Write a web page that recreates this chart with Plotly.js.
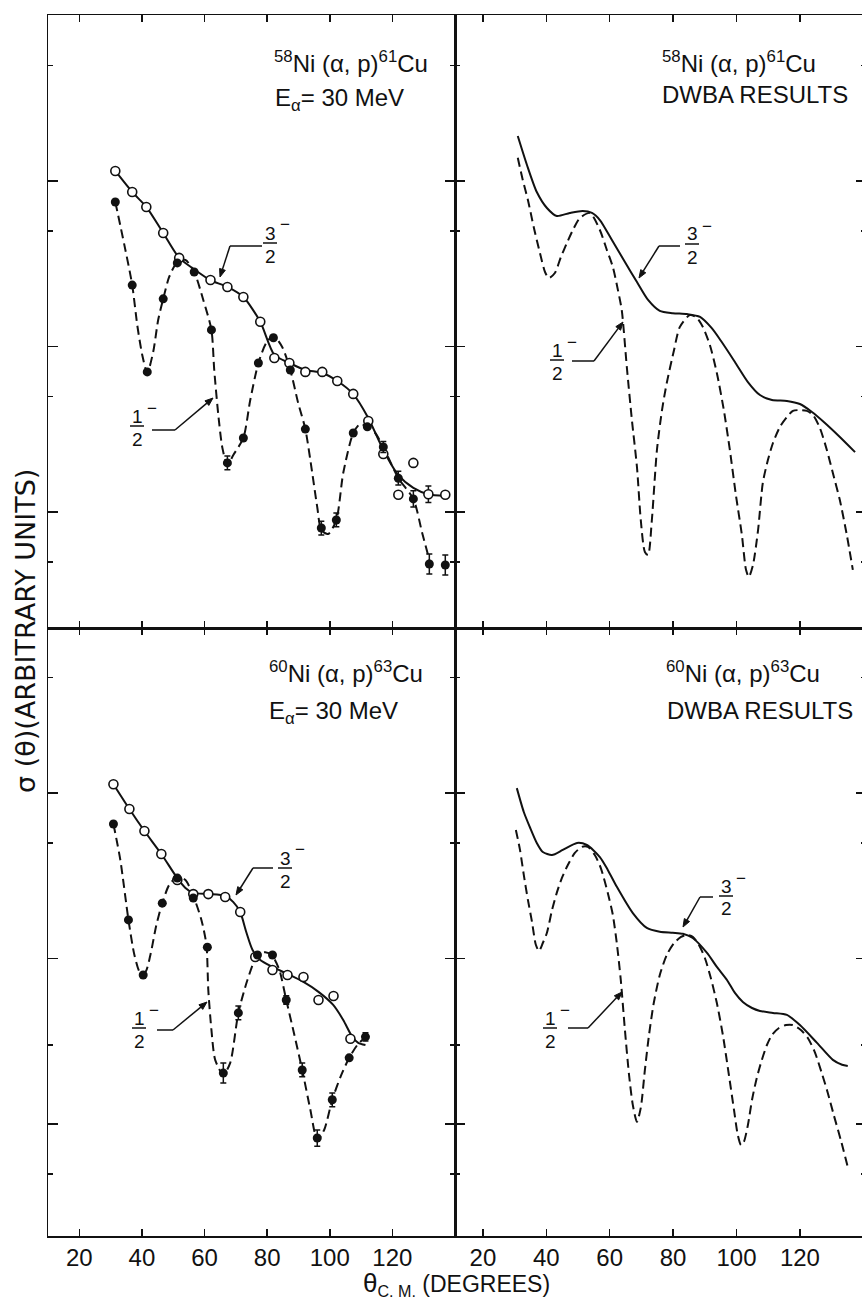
<!DOCTYPE html>
<html><head><meta charset="utf-8">
<script src="https://cdn.plot.ly/plotly-3.0.1.min.js"></script>
<style>html,body{margin:0;padding:0;overflow:hidden;background:#fff}#chart{width:866px;height:1299px}</style>
</head><body><div id="chart"></div><script>
// ---------- data (theta c.m. in degrees, sigma in arbitrary units) ----------
const xTickVals = [20, 40, 60, 80, 100, 120];
const xTickText = ["20", "40", "60", "80", "100", "120"];
const majorTicks = [1, 0.1, 0.01];
const minorTicksTop = [5, 0.5, 0.05, 0.005];
const minorTicksBottom = [5, 0.5, 0.03, 0.005];

// 58Ni(a,p)61Cu experiment
const tlOpenDeg = [31.5, 36.9, 41.4, 46.8, 51.9, 61.9, 67.3, 72.4, 77.8, 82.3, 87.1, 92.2, 97.6, 102.4, 107.5, 112.3, 117.1, 121.9, 126.7, 131.5, 136.9];
const tlOpenSig = [1.15, 0.858, 0.697, 0.485, 0.343, 0.252, 0.229, 0.199, 0.141, 0.0852, 0.0795, 0.0702, 0.0702, 0.0619, 0.0517, 0.0355, 0.0224, 0.0127, 0.0198, 0.0128, 0.0127];
const tlOpenErr = [0, 0, 0, 0, 0, 0, 0, 0, 0, 0, 0, 0, 0, 0, 0, 0, 0, 0, 0, 0.12, 0];
const tlFilledDeg = [31.5, 36.9, 41.7, 46.8, 51.3, 56.7, 62.2, 67.3, 72.4, 77.2, 82.0, 87.4, 92.2, 97.3, 102.1, 107.5, 112.0, 117.1, 121.9, 126.7, 131.8, 136.9];
const tlFilledSig = [0.747, 0.235, 0.0702, 0.194, 0.320, 0.282, 0.126, 0.0198, 0.028, 0.0795, 0.113, 0.0721, 0.0317, 0.0080, 0.00895, 0.030, 0.0327, 0.0247, 0.0160, 0.0120, 0.00485, 0.00478];
const tlFilledErr = [0, 0, 0, 0, 0, 0, 0, 0.1, 0, 0, 0, 0, 0, 0.1, 0.1, 0, 0, 0.08, 0.1, 0.12, 0.15, 0.15];
const tlSolidDeg = [31.5, 36.9, 41.4, 46.8, 51.9, 57.0, 61.8, 67.3, 72.4, 77.8, 82.3, 87.1, 92.2, 97.6, 102.4, 107.5, 112.3, 117.1, 121.9, 126.7, 131.5, 136.9];
const tlSolidSig = [1.15, 0.858, 0.697, 0.485, 0.343, 0.290, 0.252, 0.229, 0.199, 0.141, 0.0889, 0.0795, 0.0721, 0.0692, 0.0619, 0.0516, 0.0370, 0.0237, 0.0167, 0.0140, 0.0128, 0.0125];
const tlDashDeg = [31.5, 34.4, 36.9, 38.5, 40.1, 41.7, 43.6, 45.2, 46.8, 48.7, 51.3, 53.9, 56.7, 59.6, 62.2, 63.1, 64.4, 65.7, 67.3, 69.2, 72.4, 74.6, 77.2, 79.7, 82.0, 84.8, 87.4, 89.9, 92.2, 94.4, 96.0, 97.3, 99.5, 102.1, 104.3, 107.5, 109.7, 112.0, 114.5, 117.1, 121.9, 126.7, 129.5, 131.8];
const tlDashSig = [0.747, 0.410, 0.235, 0.135, 0.0889, 0.0692, 0.0927, 0.145, 0.194, 0.263, 0.324, 0.333, 0.282, 0.191, 0.126, 0.0721, 0.0386, 0.0244, 0.0192, 0.0221, 0.0280, 0.0475, 0.0795, 0.105, 0.116, 0.0993, 0.0721, 0.0456, 0.0317, 0.0172, 0.0107, 0.00778, 0.00736, 0.00895, 0.0172, 0.0300, 0.0340, 0.0327, 0.0300, 0.0247, 0.0160, 0.0120, 0.00750, 0.00515];

// 58Ni(a,p)61Cu DWBA
const trSolidDeg = [31.0, 33.9, 37.0, 40.2, 43.3, 47.4, 51.5, 54.4, 56.9, 60.7, 64.8, 68.6, 72.1, 75.8, 79.9, 84.4, 88.5, 92.2, 95.4, 99.5, 103.6, 107.4, 111.2, 115.9, 120.0, 123.8, 127.9, 132.6, 137.4];
const trSolidSig = [1.87, 1.25, 0.858, 0.687, 0.615, 0.641, 0.659, 0.641, 0.581, 0.440, 0.324, 0.245, 0.191, 0.164, 0.159, 0.157, 0.151, 0.129, 0.106, 0.0806, 0.0610, 0.0509, 0.0475, 0.0469, 0.0449, 0.0402, 0.0345, 0.0284, 0.0230];
const trDashDeg = [31.0, 32.6, 34.2, 36.1, 38.0, 39.6, 40.8, 42.7, 44.6, 46.5, 48.7, 50.6, 53.8, 56.9, 59.1, 61.0, 62.6, 63.8, 65.4, 67.0, 68.6, 69.8, 71.1, 72.1, 73.3, 74.9, 76.5, 78.0, 80.3, 82.1, 85.3, 87.5, 89.4, 91.6, 93.8, 96.0, 97.9, 99.8, 101.7, 103.0, 103.9, 105.2, 106.8, 108.3, 109.9, 111.5, 113.7, 115.9, 117.8, 120.0, 122.2, 124.1, 126.3, 128.5, 130.4, 132.6, 134.8, 136.7];
const trDashSig = [1.38, 1.01, 0.768, 0.520, 0.367, 0.282, 0.259, 0.278, 0.347, 0.422, 0.520, 0.598, 0.641, 0.506, 0.383, 0.302, 0.219, 0.166, 0.0752, 0.0360, 0.0187, 0.00895, 0.00573, 0.00550, 0.00895, 0.0237, 0.0413, 0.0602, 0.0953, 0.131, 0.155, 0.149, 0.131, 0.102, 0.0692, 0.0413, 0.0237, 0.0127, 0.00726, 0.00447, 0.00405, 0.00478, 0.00778, 0.0150, 0.0206, 0.0261, 0.0327, 0.0375, 0.0408, 0.0413, 0.0408, 0.0386, 0.0322, 0.0237, 0.0172, 0.0118, 0.00726, 0.00447];

// 60Ni(a,p)63Cu experiment
const blOpenDeg = [30.9, 36.0, 40.8, 46.2, 51.3, 56.4, 61.2, 66.6, 71.4, 76.2, 81.7, 86.5, 91.6, 96.4, 101.2, 106.6];
const blOpenSig = [1.13, 0.800, 0.589, 0.428, 0.298, 0.245, 0.245, 0.235, 0.191, 0.102, 0.0852, 0.0795, 0.0773, 0.0561, 0.0593, 0.0327];
const blFilledDeg = [30.9, 35.7, 40.4, 46.5, 51.3, 56.4, 60.9, 66.0, 70.8, 76.9, 81.7, 86.1, 91.2, 96.0, 100.8, 106.2, 111.4];
const blFilledSig = [0.650, 0.171, 0.0795, 0.216, 0.306, 0.232, 0.117, 0.0203, 0.0469, 0.105, 0.105, 0.0561, 0.0212, 0.00822, 0.0140, 0.0251, 0.0336];
const blFilledErr = [0, 0, 0, 0, 0, 0, 0, 0.15, 0.1, 0, 0, 0.06, 0.1, 0.12, 0.1, 0, 0.06];
const blSolidDeg = [30.9, 36.0, 40.8, 46.2, 51.3, 53.9, 56.4, 61.2, 66.6, 69.2, 71.4, 73.3, 75.3, 77.8, 81.7, 86.5, 91.6, 96.4, 101.1, 104.3, 107.2, 109.1, 111.4];
const blSolidSig = [1.13, 0.800, 0.589, 0.428, 0.306, 0.267, 0.249, 0.245, 0.239, 0.219, 0.191, 0.145, 0.113, 0.0980, 0.0889, 0.0806, 0.0721, 0.0628, 0.0524, 0.0425, 0.0336, 0.0309, 0.0300];
const blDashDeg = [30.9, 33.1, 35.7, 37.6, 39.5, 41.1, 42.7, 44.6, 46.5, 48.7, 51.3, 53.9, 56.4, 59.0, 60.6, 61.2, 62.2, 63.4, 66.0, 68.2, 70.8, 73.7, 76.9, 79.4, 81.6, 83.9, 86.1, 88.7, 91.2, 93.8, 96.0, 98.2, 100.8, 103.4, 106.2, 108.8, 111.4];
const blDashSig = [0.650, 0.394, 0.171, 0.105, 0.0817, 0.0828, 0.105, 0.159, 0.216, 0.278, 0.311, 0.298, 0.239, 0.171, 0.121, 0.0645, 0.0370, 0.0244, 0.0198, 0.0234, 0.0469, 0.0741, 0.105, 0.109, 0.104, 0.0852, 0.0561, 0.0345, 0.0212, 0.0122, 0.00800, 0.00920, 0.0140, 0.0192, 0.0251, 0.0300, 0.0336];

// 60Ni(a,p)63Cu DWBA
const brSolidDeg = [30.7, 32.9, 34.8, 37.0, 38.9, 41.8, 45.2, 49.7, 52.8, 56.9, 59.4, 62.3, 67.3, 71.7, 75.8, 79.9, 83.1, 86.2, 90.7, 93.8, 97.0, 99.5, 102.0, 104.9, 107.4, 111.5, 115.9, 120.0, 125.4, 130.4, 133.3, 135.1];
const brSolidSig = [1.07, 0.768, 0.623, 0.499, 0.440, 0.422, 0.453, 0.499, 0.485, 0.410, 0.343, 0.270, 0.188, 0.153, 0.145, 0.143, 0.141, 0.133, 0.108, 0.0889, 0.0741, 0.0619, 0.0546, 0.0502, 0.0482, 0.0469, 0.0456, 0.0396, 0.0309, 0.0244, 0.0228, 0.0224];
const brDashDeg = [30.4, 31.7, 32.9, 34.2, 35.5, 36.7, 37.7, 38.9, 40.2, 41.8, 43.3, 44.9, 46.8, 49.0, 51.2, 53.1, 55.3, 57.2, 59.4, 61.0, 62.3, 63.5, 64.8, 66.1, 67.3, 68.6, 69.8, 71.1, 72.4, 73.9, 75.8, 78.0, 80.3, 82.5, 84.4, 86.2, 88.1, 90.0, 91.9, 93.8, 95.7, 97.6, 99.2, 100.4, 101.4, 102.3, 103.6, 104.9, 106.4, 108.0, 109.6, 111.2, 113.4, 115.6, 117.8, 120.3, 122.5, 124.7, 126.9, 128.8, 130.7, 132.9, 135.1];
const brDashSig = [0.598, 0.453, 0.320, 0.226, 0.166, 0.121, 0.111, 0.124, 0.143, 0.196, 0.249, 0.306, 0.367, 0.434, 0.472, 0.472, 0.422, 0.352, 0.249, 0.183, 0.121, 0.0741, 0.0370, 0.0198, 0.0130, 0.0103, 0.0125, 0.0212, 0.0345, 0.0538, 0.0795, 0.105, 0.124, 0.135, 0.139, 0.135, 0.121, 0.101, 0.0762, 0.0538, 0.0345, 0.0198, 0.0122, 0.00859, 0.00746, 0.00778, 0.00986, 0.0140, 0.0190, 0.0244, 0.0300, 0.0345, 0.0380, 0.0396, 0.0396, 0.0370, 0.0331, 0.0272, 0.0203, 0.0154, 0.0113, 0.00800, 0.00550];

// ---------- figure ----------
const INK = '#111';
const FONT = 'Liberation Sans, Arial, sans-serif';
const W = 866, H = 1299, ML = 48, MT = 15, MB = 63;
const PW = W - ML, PH = H - MT - MB;
const px = x => (x - ML) / PW;
const py = y => (H - MB - y) / PH;
const splitX = px(455), splitY = py(628);

function errBars(sig, frac) {
  return {type: 'data', symmetric: false, visible: true,
    array: sig.map((v, i) => v * frac[i]),
    arrayminus: sig.map((v, i) => v * frac[i] / (1 + frac[i])),
    color: INK, thickness: 1.5, width: 3};
}
function curve(xs, ys, n, dashed) {
  return {x: xs, y: ys, xaxis: 'x' + n, yaxis: 'y' + n, mode: 'lines', hoverinfo: 'skip',
    line: {color: INK, width: 2, dash: dashed ? '9px,5px' : 'solid', shape: 'spline', smoothing: 0.7}};
}
function pts(xs, ys, n, open, err) {
  const t = {x: xs, y: ys, xaxis: 'x' + n, yaxis: 'y' + n, mode: 'markers', hoverinfo: 'skip',
    marker: open ? {symbol: 'circle', size: 9, color: '#fff', line: {color: INK, width: 1.6}}
                 : {symbol: 'circle', size: 9, color: INK, line: {color: INK, width: 0}}};
  if (err) t.error_y = errBars(ys, err);
  return t;
}

const data = [
  curve(tlSolidDeg, tlSolidSig, '', false),
  curve(tlDashDeg, tlDashSig, '', true),
  pts(tlOpenDeg, tlOpenSig, '', true, tlOpenErr),
  pts(tlFilledDeg, tlFilledSig, '', false, tlFilledErr),
  curve(trSolidDeg, trSolidSig, '2', false),
  curve(trDashDeg, trDashSig, '2', true),
  curve(blSolidDeg, blSolidSig, '3', false),
  curve(blDashDeg, blDashSig, '3', true),
  pts(blOpenDeg, blOpenSig, '3', true, null),
  pts(blFilledDeg, blFilledSig, '3', false, blFilledErr),
  curve(brSolidDeg, brSolidSig, '4', false),
  curve(brDashDeg, brDashSig, '4', true)
];

const axBase = {showline: true, linecolor: INK, linewidth: 1.5, mirror: 'ticks', ticks: 'inside',
  tickcolor: INK, tickwidth: 1.5, showgrid: false, zeroline: false, fixedrange: true};
function xAx(domain, range, anchor, labels) {
  return Object.assign({}, axBase, {domain, range, anchor, tickmode: 'array', tickvals: xTickVals,
    ticktext: xTickText, ticklen: 7, showticklabels: labels,
    tickfont: {family: FONT, size: 24, color: INK}});
}
function yAx(domain, range, anchor, minor) {
  return Object.assign({}, axBase, {domain, range, anchor, type: 'log', tickmode: 'array',
    tickvals: majorTicks, ticklen: 10, showticklabels: false,
    minor: {tickmode: 'array', tickvals: minor, ticks: 'inside', ticklen: 5, tickcolor: INK, tickwidth: 1.5, showgrid: false}});
}

const annotations = [];
const shapes = [];
function txt(x, y, text, size, extra) {
  annotations.push(Object.assign({xref: 'paper', yref: 'paper', x: px(x), y: py(y), text, showarrow: false,
    font: {family: FONT, size, color: INK}, xanchor: 'center', yanchor: 'middle'}, extra || {}));
}
function seg(x0, y0, x1, y1) {
  shapes.push({type: 'line', xref: 'paper', yref: 'paper', x0: px(x0), y0: py(y0), x1: px(x1), y1: py(y1),
    line: {color: INK, width: 1.5}});
}
// leader segment ending in a small filled arrowhead at (hx, hy)
function arrow(tx, ty, hx, hy) {
  const dx = hx - tx, dy = hy - ty, len = Math.hypot(dx, dy);
  const ux = dx / len, uy = dy / len, hl = 8, hw = 3;
  const bx = hx - ux * hl, by = hy - uy * hl;
  seg(tx, ty, bx, by);
  const p1 = [bx - uy * hw, by + ux * hw], p2 = [bx + uy * hw, by - ux * hw];
  shapes.push({type: 'path', xref: 'paper', yref: 'paper',
    path: `M ${px(hx)} ${py(hy)} L ${px(p1[0])} ${py(p1[1])} L ${px(p2[0])} ${py(p2[1])} Z`,
    fillcolor: INK, line: {color: INK, width: 1}});
}
// fraction label: numerator, bar, denominator, superscript minus, leader line + arrow
function spinLabel(num, cx, barY, leader) {
  txt(cx, barY - 10, num, 19);
  seg(cx - 7, barY, cx + 7, barY);
  txt(cx, barY + 13, '2', 19);
  txt(cx + 15, barY - 18, '\u2212', 17);
  seg(leader[0], leader[1], leader[2], leader[3]);
  arrow(leader[2], leader[3], leader[4], leader[5]);
}
spinLabel('3', 270, 243, [262, 246, 230, 246, 220, 277]);
spinLabel('1', 137, 426, [152, 430, 175, 430, 213, 398]);
spinLabel('3', 692, 244, [680, 246, 659, 246, 639, 278]);
spinLabel('1', 557, 360, [572, 361, 594, 361, 623, 322]);
spinLabel('3', 285, 868, [273, 868, 253, 868, 236, 895]);
spinLabel('1', 139, 1028, [157, 1030, 173, 1030, 207, 1002]);
spinLabel('3', 726, 896, [713, 897, 700, 897, 683, 927]);
spinLabel('1', 550, 1028, [568, 1028, 588, 1028, 622, 992]);

// panel titles
const L = {xanchor: 'left'};
txt(272, 62, '<sup>58</sup>Ni (α, p)<sup>61</sup>Cu', 24, L);
txt(273, 99, 'E<sub>α</sub>= 30 MeV', 24, L);
txt(660, 62, '<sup>58</sup>Ni (α, p)<sup>61</sup>Cu', 24, L);
txt(660, 95, 'DWBA RESULTS', 24, L);
txt(267, 672, '<sup>60</sup>Ni (α, p)<sup>63</sup>Cu', 24, L);
txt(267, 712, 'E<sub>α</sub>= 30 MeV', 24, L);
txt(664, 672, '<sup>60</sup>Ni (α, p)<sup>63</sup>Cu', 24, L);
txt(665, 710, 'DWBA RESULTS', 24, L);

// axis titles
txt(456, 1284, '<span style="font-size:26px">θ</span><sub>C. M.</sub> (DEGREES)', 23);
annotations.push({xref: 'paper', yref: 'paper', x: px(25), y: py(631), text: 'σ (θ)(ARBITRARY UNITS)',
  showarrow: false, textangle: -90, font: {family: 'DejaVu Sans, sans-serif', size: 27, color: INK},
  xanchor: 'center', yanchor: 'middle'});

const layout = {
  width: W, height: H, margin: {l: ML, r: 0, t: MT, b: MB, pad: 0},
  paper_bgcolor: '#fff', plot_bgcolor: '#fff', showlegend: false,
  xaxis: xAx([0, splitX], [10, 140], 'y', false),
  yaxis: yAx([splitY, 1], [-2.701, 1.003], 'x', minorTicksTop),
  xaxis2: xAx([splitX, 1], [11.2, 140.85], 'y2', false),
  yaxis2: yAx([splitY, 1], [-2.701, 1.003], 'x2', minorTicksTop),
  xaxis3: xAx([0, splitX], [10, 140], 'y3', true),
  yaxis3: yAx([0, splitY], [-2.677, 0.997], 'x3', minorTicksBottom),
  xaxis4: xAx([splitX, 1], [11.2, 140.85], 'y4', true),
  yaxis4: yAx([0, splitY], [-2.677, 0.997], 'x4', minorTicksBottom),
  annotations, shapes
};
Plotly.newPlot('chart', data, layout, {displayModeBar: false, staticPlot: true});
</script></body></html>
